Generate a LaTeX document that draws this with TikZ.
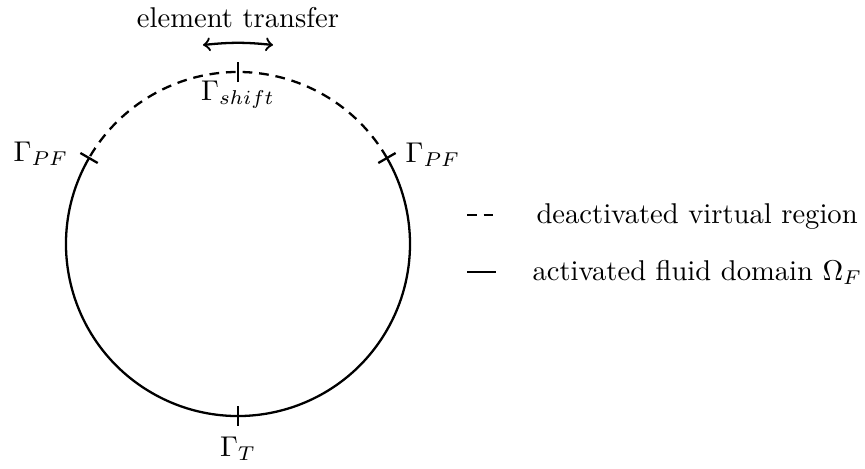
\documentclass[tikz,border=0pt]{standalone}
\begin{document}
\begin{tikzpicture}[x=0.3497pt,y=-0.3497pt,
  bnd/.style={thick},
  virt/.style={thick,dash pattern=on 3.4pt off 2.4pt},
  tickmark/.style={thick},
  lbl/.style={inner sep=2pt},
  legtext/.style={anchor=base west,inner sep=0pt}]
\useasboundingbox (0,0) rectangle (865,468);
\coordinate (c) at (238,244);
% circle: dashed virtual region on top, solid fluid domain elsewhere
\draw[virt] ([shift={(30:60.15pt)}]c) arc[start angle=30,end angle=150,radius=60.15pt];
\draw[bnd] ([shift={(150:60.15pt)}]c) arc[start angle=150,end angle=390,radius=60.15pt];
% ticks
\foreach \a in {30,90,150,270}{
  \draw[tickmark] ([shift={(\a:56.65pt)}]c) -- ([shift={(\a:63.65pt)}]c);
}
% labels
\node[lbl] (shift) at (238,95) {$\Gamma_{shift}$};
\node[lbl] (pfl) at (41,154) {$\Gamma_{PF}$};
\node[lbl] (pfr) at (433,155) {$\Gamma_{PF}$};
\node[lbl] (gt) at (238,449) {$\Gamma_T$};
\node[lbl] (et) at (238,18) {element transfer};
% element transfer arrow
\coordinate (al) at (203,45);
\coordinate (ar) at (273,45);
\draw[thick,<->,bend left=6] (al) to (ar);
% legend
\coordinate (d1) at (467,215);
\coordinate (d2) at (494,215);
\draw[virt] (d1) -- (d2);
\node[legtext] (lv) at (536,223) {deactivated virtual region};
\coordinate (s1) at (467,272);
\coordinate (s2) at (496,272);
\draw[bnd] (s1) -- (s2);
\node[legtext] (la) at (532,280) {activated fluid domain $\Omega_F$};
\end{tikzpicture}
\end{document}
